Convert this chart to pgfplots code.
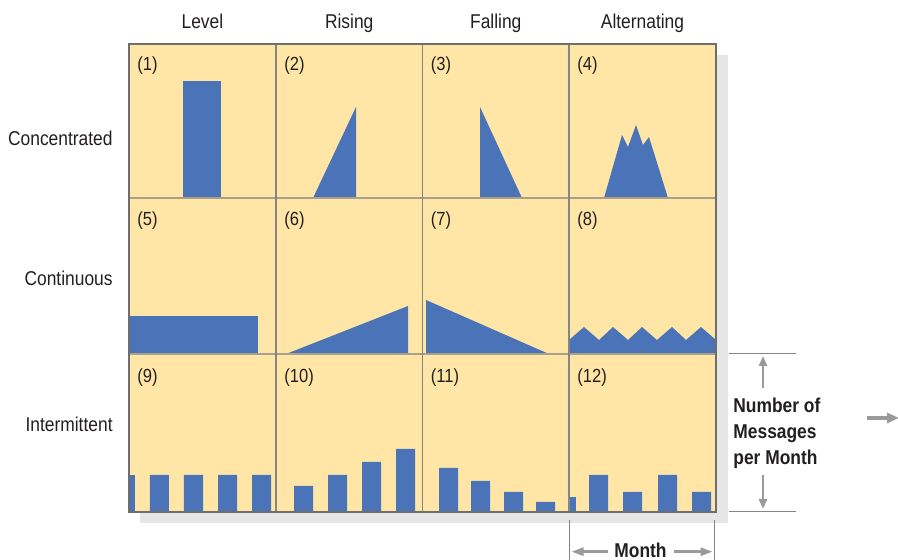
\documentclass[border=0pt]{standalone}
\usepackage{fontspec}
\setmainfont{Liberation Sans}[FakeStretch=0.87]
\usepackage{pgfplots}
\pgfplotsset{compat=1.18}
\usetikzlibrary{arrows.meta}
\definecolor{panel}{HTML}{FFE6A6}
\definecolor{bluefill}{HTML}{4B74B8}
\definecolor{shadowc}{HTML}{E6E6E6}
\definecolor{borderc}{HTML}{6E6E6E}
\definecolor{vlinec}{HTML}{858585}
\definecolor{hlinec}{HTML}{A8A08C}
\definecolor{arrowc}{HTML}{9A9A9A}
\definecolor{textc}{HTML}{231F20}
\tikzset{pnum/.style={anchor=west, inner sep=0pt, font=\fontsize{9.5pt}{11pt}\selectfont}}
\begin{document}
\begin{tikzpicture}[font=\fontsize{10pt}{12pt}\selectfont, text=textc]
\begin{axis}[
  width=293.5pt, height=234pt, scale only axis,
  xmin=129, xmax=716, ymin=0, ymax=468,
  hide axis, clip=false,
]
% shadow and panel background
\fill[shadowc] (axis cs:140,-11) rectangle (axis cs:728,457);
\fill[panel] (axis cs:129,0) rectangle (axis cs:716,468);

% Row 1: Concentrated
\addplot[fill=bluefill, draw=none] coordinates {(183,314) (183,431) (221,431) (221,314)} -- cycle;
\addplot[fill=bluefill, draw=none] coordinates {(313,314) (356,405) (356,314)} -- cycle;
\addplot[fill=bluefill, draw=none] coordinates {(480,314) (480,405) (522,314)} -- cycle;
\addplot[fill=bluefill, draw=none] coordinates {(604,314) (622,377) (628,365) (636,387) (643,367) (649,375) (668,314)} -- cycle;

% Row 2: Continuous
\addplot[fill=bluefill, draw=none] coordinates {(129,158) (129,196) (258,196) (258,158)} -- cycle;
\addplot[fill=bluefill, draw=none] coordinates {(286,158) (408,206) (408,158)} -- cycle;
\addplot[fill=bluefill, draw=none] coordinates {(426,158) (426,212) (549,158)} -- cycle;
\addplot[fill=bluefill, draw=none] coordinates {(569,158) (569,172) (584,185) (599,172) (613,185) (628,172) (642,185) (657,172) (672,185) (686,172) (701,185) (716,172) (716,158)} -- cycle;

% Row 3: Intermittent
\addplot[ybar, bar width=6, fill=bluefill, draw=none] coordinates {(132,37)};
\addplot[ybar, bar width=19, fill=bluefill, draw=none] coordinates {(159.5,37) (193.5,37) (227.5,37) (261.5,37)};
\addplot[ybar, bar width=19, fill=bluefill, draw=none] coordinates {(303.5,26) (337.5,37) (371.5,50) (405.5,63)};
\addplot[ybar, bar width=19, fill=bluefill, draw=none] coordinates {(448.5,44) (480.5,31) (513.5,20) (545.5,10)};
\addplot[ybar, bar width=7, fill=bluefill, draw=none] coordinates {(572.5,15)};
\addplot[ybar, bar width=19, fill=bluefill, draw=none] coordinates {(598.5,37) (632.5,20) (667.5,37) (701.5,20)};

% grid lines
\draw[hlinec, line width=0.8pt] (axis cs:129,314) -- (axis cs:716,314);
\draw[hlinec, line width=0.8pt] (axis cs:129,158) -- (axis cs:716,158);
\draw[vlinec, line width=0.55pt] (axis cs:276,0) -- (axis cs:276,468);
\draw[vlinec, line width=0.55pt] (axis cs:422.5,0) -- (axis cs:422.5,468);
\draw[vlinec, line width=0.55pt] (axis cs:569,0) -- (axis cs:569,468);
\draw[borderc, line width=0.8pt] (axis cs:129,0) rectangle (axis cs:716,468);

% panel numbers
\node[pnum] at (axis cs:137,446) {(1)};
\node[pnum] at (axis cs:284,446) {(2)};
\node[pnum] at (axis cs:430.5,446) {(3)};
\node[pnum] at (axis cs:577,446) {(4)};
\node[pnum] at (axis cs:137,291) {(5)};
\node[pnum] at (axis cs:284,291) {(6)};
\node[pnum] at (axis cs:430.5,291) {(7)};
\node[pnum] at (axis cs:577,291) {(8)};
\node[pnum] at (axis cs:137,134) {(9)};
\node[pnum] at (axis cs:284,134) {(10)};
\node[pnum] at (axis cs:430.5,134) {(11)};
\node[pnum] at (axis cs:577,134) {(12)};

% column headers
\node[anchor=base, inner sep=0pt] at (axis cs:202.4,483) {Level};
\node[anchor=base, inner sep=0pt] at (axis cs:349.2,483) {Rising};
\node[anchor=base, inner sep=0pt] at (axis cs:495.8,483) {Falling};
\node[anchor=base, inner sep=0pt] at (axis cs:642.5,483) {Alternating};

% row labels
\node[anchor=base east, inner sep=0pt] at (axis cs:113,366) {Concentrated};
\node[anchor=base east, inner sep=0pt] at (axis cs:113,226) {Continuous};
\node[anchor=base east, inner sep=0pt] at (axis cs:113,80) {Intermittent};

% right annotation
\draw[vlinec, line width=0.5pt] (axis cs:729,158) -- (axis cs:796,158);
\draw[vlinec, line width=0.5pt] (axis cs:729,0) -- (axis cs:796,0);
\draw[arrowc, line width=1.3pt, -{Triangle[length=5pt,width=4pt]}] (axis cs:763,124) -- (axis cs:763,156);
\draw[arrowc, line width=1.3pt, -{Triangle[length=5pt,width=4pt]}] (axis cs:763,37) -- (axis cs:763,3);
\node[anchor=base west, inner sep=0pt, font=\bfseries\fontsize{10pt}{12pt}\selectfont] at (axis cs:733,99.3) {Number of};
\node[anchor=base west, inner sep=0pt, font=\bfseries\fontsize{10pt}{12pt}\selectfont] at (axis cs:733,73.3) {Messages};
\node[anchor=base west, inner sep=0pt, font=\bfseries\fontsize{10pt}{12pt}\selectfont] at (axis cs:733,47.7) {per Month};
\draw[arrowc, line width=1.6pt, -{Triangle[length=6pt,width=5pt]}] (axis cs:867,94) -- (axis cs:899,94);

% bottom annotation
\draw[vlinec, line width=0.5pt] (axis cs:569.3,-8) -- (axis cs:569.3,-50);
\draw[vlinec, line width=0.5pt] (axis cs:714.7,-8) -- (axis cs:714.7,-50);
\draw[arrowc, line width=1.3pt, -{Triangle[length=6pt,width=4pt]}] (axis cs:608,-39.7) -- (axis cs:571.5,-39.7);
\draw[arrowc, line width=1.3pt, -{Triangle[length=6pt,width=4pt]}] (axis cs:674,-39.7) -- (axis cs:712.5,-39.7);
\node[anchor=base, inner sep=0pt, font=\bfseries\fontsize{10pt}{12pt}\selectfont] at (axis cs:640.5,-46) {Month};

\coordinate (bbA) at (axis cs:0,-48);
\coordinate (bbB) at (axis cs:898,512);
\end{axis}
\pgfresetboundingbox
\path[use as bounding box] (bbA) rectangle (bbB);
\end{tikzpicture}
\end{document}
